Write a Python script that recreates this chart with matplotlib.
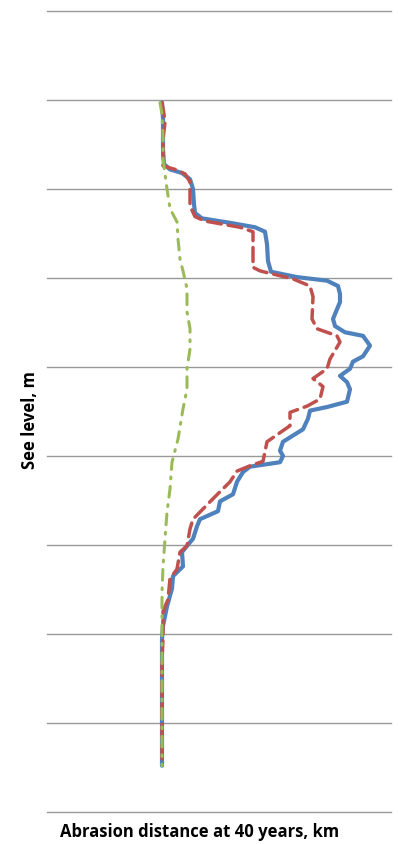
import matplotlib
matplotlib.use("Agg")
import matplotlib.pyplot as plt

# sea level (m) and abrasion distance (km)
blue_y = [79.7, 77.9, 74.5, 72.8, 72.2, 71.8, 71.1, 70.0, 68.3, 67.3,
          66.7, 66.2, 65.7, 65.2, 63.8, 61.9, 60.7, 60.1, 59.7, 59.1,
          58.2, 57.3, 55.4, 54.6, 53.9, 53.5, 52.4, 51.2, 50.6, 49.8,
          49.0, 48.3, 47.5, 46.1, 45.5, 45.1, 44.2, 43.0, 41.6, 40.6,
          40.0, 39.3, 38.8, 38.2, 37.1, 35.7, 34.9, 33.8, 32.9, 32.1,
          30.7, 29.9, 29.2, 27.6, 26.5, 25.1, 23.1, 20.9, 19.4, 17.2,
          12.7, 5.2]
blue_x = [1.15, 1.16, 1.16, 1.17, 1.23, 1.35, 1.43, 1.46, 1.47, 1.48,
          1.55, 1.83, 2.08, 2.18, 2.20, 2.21, 2.24, 2.50, 2.80, 2.91,
          2.93, 2.93, 2.86, 2.88, 2.98, 3.16, 3.23, 3.16, 3.06, 3.03,
          2.93, 3.00, 3.03, 3.00, 2.80, 2.63, 2.61, 2.56, 2.36, 2.33,
          2.36, 2.33, 2.03, 1.96, 1.90, 1.86, 1.73, 1.71, 1.53, 1.50,
          1.46, 1.40, 1.35, 1.36, 1.26, 1.25, 1.20, 1.16, 1.15, 1.15,
          1.15, 1.15]

red_y = [79.7, 78.4, 77.5, 75.6, 72.6, 72.2, 71.7, 70.8, 68.1, 66.9,
         66.4, 65.7, 65.2, 63.3, 61.2, 60.8, 59.9, 59.1, 57.9, 55.4,
         54.3, 53.5, 52.8, 50.9, 49.8, 48.7, 47.8, 46.4, 45.6, 44.9,
         43.4, 41.6, 39.4, 38.9, 38.3, 37.1, 35.2, 32.9, 31.8, 29.9,
         29.2, 27.3, 26.2, 23.9, 22.5, 19.4, 17.2, 12.7, 5.2]
red_x = [1.15, 1.17, 1.18, 1.16, 1.16, 1.28, 1.38, 1.43, 1.43, 1.48,
         1.58, 1.93, 2.06, 2.06, 2.06, 2.13, 2.46, 2.63, 2.66, 2.65,
         2.70, 2.90, 2.93, 2.83, 2.80, 2.66, 2.76, 2.73, 2.60, 2.43,
         2.43, 2.20, 2.16, 2.03, 1.90, 1.83, 1.66, 1.46, 1.43, 1.40,
         1.33, 1.30, 1.23, 1.21, 1.16, 1.16, 1.15, 1.15, 1.15]

green_y = [79.7, 78.4, 75.6, 73.4, 71.7, 70.0, 67.8, 66.3, 64.4, 62.1,
           60.8, 58.8, 56.2, 54.3, 52.0, 49.8, 47.5, 45.3, 41.9, 39.3,
           36.3, 33.7, 30.7, 27.6, 24.7, 21.3, 17.2, 12.7, 5.2]
green_x = [1.13, 1.15, 1.16, 1.16, 1.18, 1.20, 1.23, 1.30, 1.31, 1.33,
           1.36, 1.40, 1.40, 1.43, 1.43, 1.40, 1.40, 1.36, 1.31, 1.25,
           1.23, 1.20, 1.18, 1.16, 1.15, 1.15, 1.15, 1.15, 1.15]

fig = plt.figure(figsize=(3.98, 8.45), dpi=100)
ax = fig.add_axes([47/398, 32/845, 344/398, 801/845])

ax.plot(blue_x, blue_y, color="#4F81BD", lw=3.0, solid_joinstyle="round", solid_capstyle="round", zorder=3)
ax.plot(red_x, red_y, color="#C0504D", lw=2.5, dashes=(4, 2), dash_capstyle="round", zorder=4)
ax.plot(green_x, green_y, color="#9BBB59", lw=2.2, dashes=(3.5, 2.5, 0.6, 2.5), dash_capstyle="round", zorder=5)

ax.set_xlim(0, 3.44)
ax.set_ylim(0, 90)
ax.set_yticks(range(0, 91, 10))
ax.set_xticks([])
ax.tick_params(axis="y", length=0, labelleft=False)
ax.grid(axis="y", color="#999999", lw=1.0)
for gl in ax.get_ygridlines():
    gl.set_clip_on(False)
for s in ax.spines.values():
    s.set_visible(False)

fig.text(30/398, 1 - 420/845, "See level, m", rotation=90, ha="center", va="center",
         fontsize=12, fontweight="bold", family="Open Sans")
fig.text(200/398, 1 - 832/845, "Abrasion distance at 40 years, km", ha="center", va="center",
         fontsize=12, fontweight="bold", family="Open Sans")

fig.savefig("out.png", dpi=100)
